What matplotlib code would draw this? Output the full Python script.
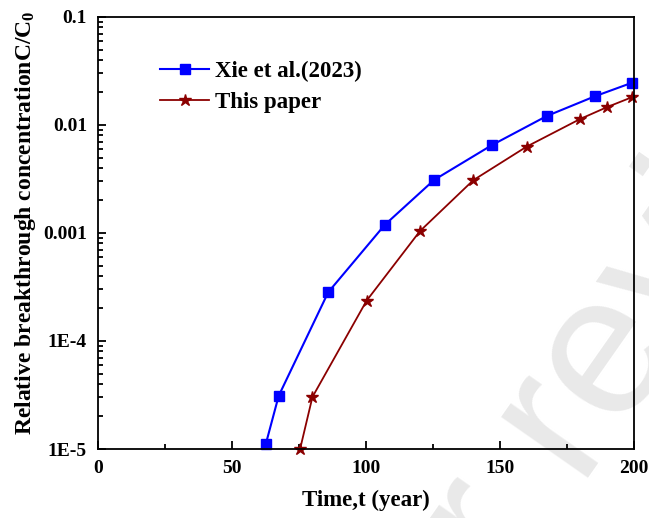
import numpy as np
import matplotlib
matplotlib.use("Agg")
import matplotlib.pyplot as plt
from matplotlib.ticker import LogLocator, NullFormatter, MultipleLocator, FixedLocator

# breakthrough curves
t_xie = [62.6, 67.4, 85.9, 107.0, 125.4, 146.9, 167.4, 185.4, 199.4]
c_xie = [1.11e-5, 3.1e-5, 2.83e-4, 1.19e-3, 3.1e-3, 6.5e-3, 1.21e-2, 1.845e-2, 2.47e-2]
t_this = [75.4, 80.0, 100.2, 120.1, 140.0, 159.9, 179.9, 189.8, 199.4]
c_this = [1.0e-5, 3.03e-5, 2.36e-4, 1.04e-3, 3.08e-3, 6.3e-3, 1.137e-2, 1.46e-2, 1.816e-2]

y_ticks = [1e-5, 1e-4, 1e-3, 1e-2, 1e-1]
y_labels = ["1E-5", "1E-4", "0.001", "0.01", "0.1"]

plt.rcParams["font.family"] = ["Liberation Serif", "DejaVu Serif"]
plt.rcParams["font.weight"] = "bold"
plt.rcParams["mathtext.fontset"] = "custom"
plt.rcParams["mathtext.rm"] = "Liberation Serif:bold"
plt.rcParams["mathtext.it"] = "Liberation Serif:bold"

fig = plt.figure(figsize=(6.49, 5.18), dpi=100)
ax = fig.add_axes([0.151, 0.1332, 0.826, 0.834])

# faint watermark in the background (only partly inside the frame)
wm = dict(fontsize=145, color="#e9e9e9", rotation=55, va="baseline", rotation_mode="anchor",
          fontweight="normal", family="Liberation Sans", zorder=-1)
fig.text(0.886, 0.077, "review", ha="left", **wm)
fig.text(0.837, -0.012, "peer", ha="right", **wm)
ax.set_facecolor("none")

ax.plot(t_xie, c_xie, "-s", color="#0000ff", lw=1.5, ms=7, label="Xie et al.(2023)", clip_on=False)
ax.plot(t_this, c_this, "-*", color="#8b0000", lw=1.3, ms=9, label="This paper", clip_on=False)

ax.set_yscale("log")
ax.set_xlim(0, 200)
ax.set_ylim(1e-5, 0.1)
ax.yaxis.set_major_locator(FixedLocator(y_ticks))
ax.set_yticklabels(y_labels)
ax.yaxis.set_minor_locator(LogLocator(base=10, subs=np.arange(2, 10)))
ax.yaxis.set_minor_formatter(NullFormatter())
ax.xaxis.set_major_locator(MultipleLocator(50))
ax.xaxis.set_minor_locator(MultipleLocator(25))

ax.tick_params(which="both", direction="in", top=False, right=False, labelsize=14, width=1.3)
ax.tick_params(which="major", length=6, pad=8)
ax.tick_params(which="minor", length=3.5)
for s in ax.spines.values():
    s.set_linewidth(1.3)

ax.set_xlabel("Time,t (year)", fontsize=16.5, fontweight="bold", labelpad=9)
ax.set_ylabel("Relative breakthrough concentrationC/C$_0$", fontsize=17, fontweight="bold")
ax.yaxis.set_label_coords(-0.111, 0.523)

ax.legend(loc="upper left", bbox_to_anchor=(0.078, 0.947), frameon=False, fontsize=16.5,
          handlelength=2.1, handletextpad=0.3, labelspacing=0.45)

fig.savefig("out.png", dpi=100)
